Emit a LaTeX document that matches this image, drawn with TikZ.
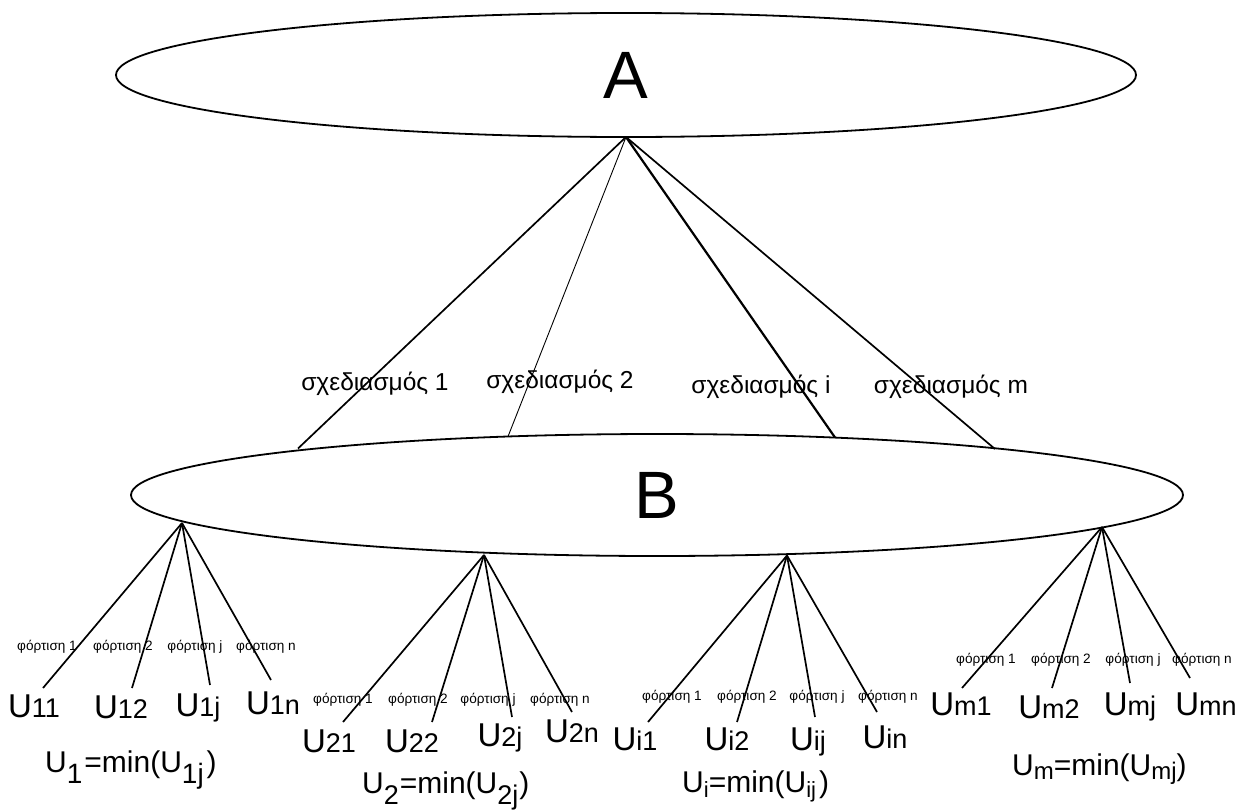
\documentclass[tikz,border=0pt]{standalone}
\usepackage{fontspec}
\setmainfont{Liberation Sans}
\usetikzlibrary{shapes.geometric}
\newcommand{\dg}[1]{{\fontsize{27}{30}\selectfont #1}}
\newcommand{\lo}[3]{\raisebox{-#1pt}{\fontsize{#2}{#2}\selectfont #3}}
\begin{document}
\begin{tikzpicture}[x=1pt,y=-1pt,
  ell/.style={draw, ellipse, line width=1.8pt, inner sep=0pt, outer sep=0pt},
  conn/.style={line width=1.7pt},
  des/.style={font=\fontsize{24.5}{27}\selectfont, anchor=base, inner sep=0pt},
  load/.style={font=\fontsize{13.6}{15}\selectfont, anchor=base, inner sep=0pt},
  leaf/.style={font=\fontsize{33}{36}\selectfont, anchor=base, inner sep=0pt},
  formula/.style={font=\fontsize{30}{32}\selectfont, anchor=base west, inner sep=0pt}]
\useasboundingbox[fill=white] (0,0) rectangle (1244,811);

\node[ell, minimum width=1020pt, minimum height=124pt] (A) at (626,75) {\fontsize{67}{70}\selectfont A};
\node[ell, minimum width=1052pt, minimum height=122pt] (B) at (657,495) {\fontsize{67}{70}\selectfont B};

% ends of the top connectors on B's border
\coordinate (t1) at (298,448.5);
\coordinate (t2) at (508,436.5);
\coordinate (t3) at (835,437.5);
\coordinate (t4) at (995,449);

\draw[conn] (A.south) -- (t1);
\draw[line width=0.9pt] (A.south) -- (t2);
\draw[line width=2.2pt] (A.south) -- (t3);
\draw[conn] (A.south) -- (t4);

\node[des] (s1) at (375,390) {σχεδιασμός 1};
\node[des] (s2) at (560,388) {σχεδιασμός 2};
\node[des] (si) at (761,393) {σχεδιασμός i};
\node[des] (sm) at (951,393) {σχεδιασμός m};

% apexes on B
\coordinate (b1) at (182,523);
\coordinate (b2) at (484,555);
\coordinate (b3) at (787,555.5);
\coordinate (b4) at (1102,527);

% free ends
\coordinate (e11) at (43,688);  \coordinate (e12) at (132,688); \coordinate (e13) at (210,685); \coordinate (e14) at (271,680);
\coordinate (e21) at (343,722); \coordinate (e22) at (432,722); \coordinate (e23) at (512,717); \coordinate (e24) at (572,712);
\coordinate (e31) at (648,722); \coordinate (e32) at (737,722); \coordinate (e33) at (815,717); \coordinate (e34) at (877,712);
\coordinate (e41) at (962,688); \coordinate (e42) at (1052,688); \coordinate (e43) at (1130,683); \coordinate (e44) at (1190,678);

\foreach \g in {1,2,3,4}{
  \foreach \k in {1,2,3,4}{
    \draw[conn] (b\g) -- (e\g\k);
  }
}

% load labels
\node[load] (p11) at (47,650) {φόρτιση 1};
\node[load] (p12) at (123,650) {φόρτιση 2};
\node[load] (p13) at (195,650) {φόρτιση j};
\node[load] (p14) at (266,650) {φόρτιση n};
\node[load] (p21) at (343,703) {φόρτιση 1};
\node[load] (p22) at (418,703) {φόρτιση 2};
\node[load] (p23) at (488,703) {φόρτιση j};
\node[load] (p24) at (560,703) {φόρτιση n};
\node[load] (p31) at (672,700) {φόρτιση 1};
\node[load] (p32) at (747,700) {φόρτιση 2};
\node[load] (p33) at (817,700) {φόρτιση j};
\node[load] (p34) at (888,700) {φόρτιση n};
\node[load] (p41) at (986,663) {φόρτιση 1};
\node[load] (p42) at (1061,663) {φόρτιση 2};
\node[load] (p43) at (1133,663) {φόρτιση j};
\node[load] (p44) at (1202,663) {φόρτιση n};

% leaves
\node[leaf] (u11) at (34,717) {U\dg{11}};
\node[leaf] (u12) at (121,718) {U\dg{12}};
\node[leaf] (u1j) at (198,716) {U\dg{1j}};
\node[leaf] (u1n) at (273,714) {U\dg{1n}};
\node[leaf] (u21) at (329,752) {U\dg{21}};
\node[leaf] (u22) at (412,752) {U\dg{22}};
\node[leaf] (u2j) at (500,746) {U\dg{2j}};
\node[leaf] (u2n) at (572,742) {U\dg{2n}};
\node[leaf] (ui1) at (635,750) {U\dg{i1}};
\node[leaf] (ui2) at (727,750) {U\dg{i2}};
\node[leaf] (uij) at (808,750) {U\dg{ij}};
\node[leaf] (uin) at (885,748) {U\dg{in}};
\node[leaf] (um1) at (961,715) {U\dg{m1}};
\node[leaf] (um2) at (1049,718) {U\dg{m2}};
\node[leaf] (umj) at (1130,715) {U\dg{mj}};
\node[leaf] (umn) at (1206,715) {U\dg{mn}};

% formulas
\node[formula] (f1) at (45,772) {U\lo{11}{28}{1}\hspace{2pt}=min(U\lo{11}{28}{1j}\hspace{3pt})};
\node[formula] (f2) at (362,793) {U\lo{11}{27}{2}\hspace{1pt}=min(U\lo{11}{27}{2j}\hspace{1pt})};
\node[formula] (fi) at (682,792) {U\lo{5}{22}{i}=min(U\lo{5}{22}{ij}\hspace{3pt})};
\node[formula] (fm) at (1012,775) {U\lo{4}{24}{m}=min(U\lo{4}{24}{mj})};
\end{tikzpicture}
\end{document}
